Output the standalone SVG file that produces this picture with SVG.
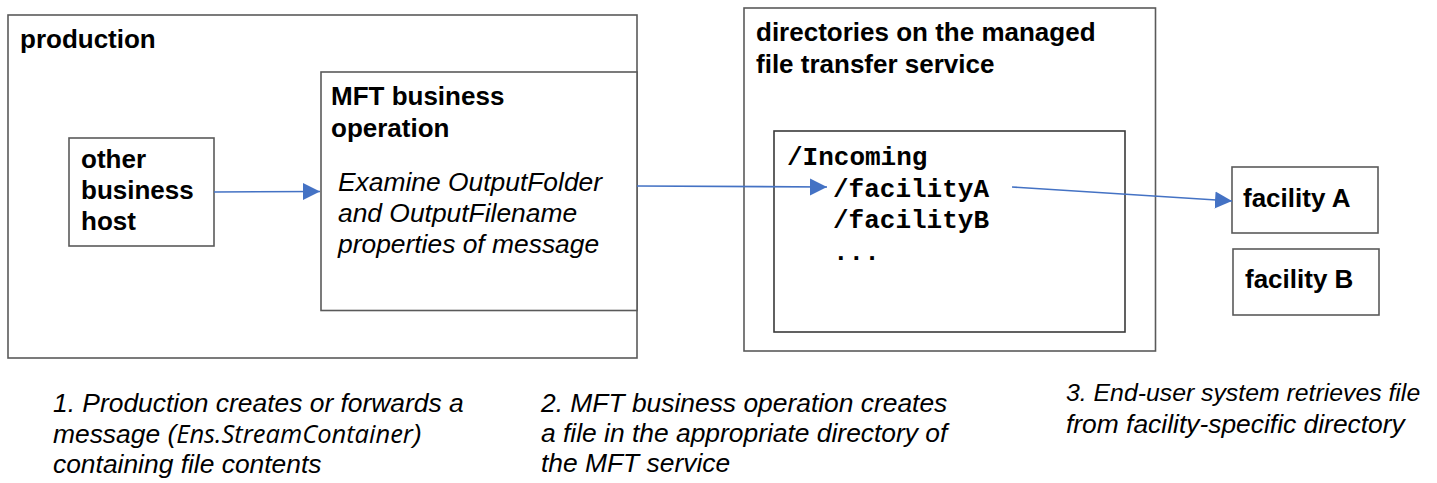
<svg xmlns="http://www.w3.org/2000/svg" width="1437" height="483" viewBox="0 0 1437 483">
  <style>
    .box { fill: #ffffff; stroke: #5a5a5a; stroke-width: 1.6; }
    .inner { fill: #ffffff; stroke: #3a3a3a; stroke-width: 1.6; }
    .b { font-family: "Liberation Sans", Arial, sans-serif; font-weight: bold; font-size: 26px; fill: #000; }
    .i { font-family: "Liberation Sans", Arial, sans-serif; font-style: italic; font-size: 26.4px; fill: #000; }
    .m { font-family: "Liberation Mono", "Courier New", monospace; font-weight: bold; font-size: 26px; fill: #000; }
    .alt { font-family: "Open Sans", "Noto Sans", sans-serif; font-style: italic; font-size: 25.5px; }
    .conn { fill: none; stroke: #4472C4; stroke-width: 1.6; }
  </style>
  <defs>
    <marker id="arrow" markerUnits="userSpaceOnUse" markerWidth="18" markerHeight="18" viewBox="0 0 18 18" refX="17" refY="9" orient="auto">
      <path d="M0,0.5 L17,9 L0,17.5 Z" fill="#4472C4"/>
    </marker>
  </defs>
  <rect width="1437" height="483" fill="#ffffff"/>

  <g id="production">
    <rect class="box" x="8" y="15" width="629" height="343"/>
    <text class="b" x="20" y="48">production</text>
  </g>

  <g id="other-business-host">
    <rect class="box" x="69" y="138" width="145" height="108"/>
    <text class="b" x="81" y="168">other</text>
    <text class="b" x="81" y="199">business</text>
    <text class="b" x="81" y="230">host</text>
  </g>

  <g id="mft-business-operation">
    <rect class="box" x="321" y="72" width="316" height="238.5"/>
    <text class="b" x="331" y="105">MFT business</text>
    <text class="b" x="331" y="137">operation</text>
    <text class="i" x="338" y="191">Examine OutputFolder</text>
    <text class="i" x="338" y="222">and OutputFilename</text>
    <text class="i" x="338" y="253">properties of message</text>
  </g>

  <g id="mft-service">
    <rect class="box" x="744" y="8" width="411.5" height="343"/>
    <text class="b" x="756" y="41">directories on the managed</text>
    <text class="b" x="756" y="73">file transfer service</text>
  </g>

  <g id="directories">
    <rect class="inner" x="774" y="131" width="351" height="201"/>
    <text class="m" x="787" y="165">/Incoming</text>
    <text class="m" x="833" y="197">/facilityA</text>
    <text class="m" x="833" y="228">/facilityB</text>
    <text class="m" x="833" y="260">...</text>
  </g>

  <g id="facility-a">
    <rect class="box" x="1232" y="167" width="146" height="66"/>
    <text class="b" x="1243" y="207">facility A</text>
  </g>

  <g id="facility-b">
    <rect class="box" x="1233" y="249" width="146" height="66"/>
    <text class="b" x="1245" y="288">facility B</text>
  </g>

  <g id="connectors">
    <line class="conn" x1="214" y1="192" x2="320" y2="191.5" marker-end="url(#arrow)"/>
    <line class="conn" x1="637" y1="186" x2="827" y2="187" marker-end="url(#arrow)"/>
    <line class="conn" x1="1012" y1="187" x2="1232" y2="201" marker-end="url(#arrow)"/>
  </g>

  <g id="captions">
    <text class="i" x="53" y="412">1. Production creates or forwards a</text>
    <text class="i" x="53" y="443">message (<tspan class="alt">Ens.StreamContainer</tspan>)</text>
    <text class="i" x="53" y="473">containing file contents</text>

    <text class="i" x="541" y="412">2. MFT business operation creates</text>
    <text class="i" x="541" y="442">a file in the appropriate directory of</text>
    <text class="i" x="541" y="472">the MFT service</text>

    <text class="i" x="1066" y="401" style="font-size:24.8px">3. End-user system retrieves file</text>
    <text class="i" x="1066" y="433">from facility-specific directory</text>
  </g>
</svg>
